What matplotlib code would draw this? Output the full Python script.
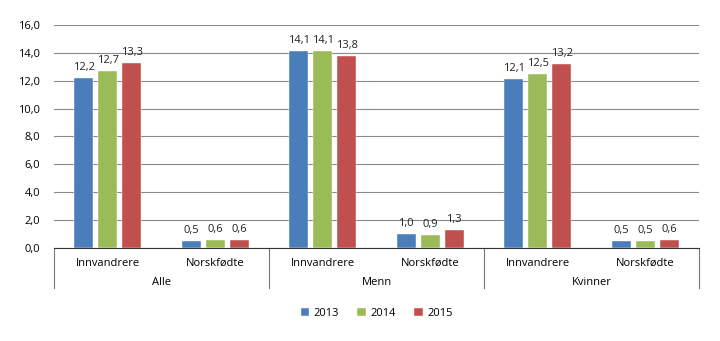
import matplotlib.pyplot as plt
import numpy as np
from matplotlib.ticker import FuncFormatter

plt.rcParams["font.family"] = ["Open Sans", "DejaVu Sans"]
plt.rcParams["font.size"] = 8

groups = ["Alle", "Menn", "Kvinner"]
subcats = ["Innvandrere", "Norskfødte"] * 3
years = ["2013", "2014", "2015"]
v2013 = [12.2, 0.5, 14.1, 1.0, 12.1, 0.5]
v2014 = [12.7, 0.6, 14.1, 0.9, 12.5, 0.5]
v2015 = [13.3, 0.6, 13.8, 1.3, 13.2, 0.6]
colors = ["#4a7ebb", "#9bbb59", "#c0504d"]

fig = plt.figure(figsize=(7.2, 3.41), dpi=100)
ax = fig.add_axes([0.075, 0.273, 0.896, 0.654])

x = np.arange(len(subcats))
w = 0.177
step = 0.223
for i, (vals, c, lab) in enumerate(zip([v2013, v2014, v2015], colors, years)):
    bars = ax.bar(x + (i - 1) * step, vals, w, color=c, label=lab, zorder=3,
                  edgecolor="white", linewidth=0.3)
    for b, v in zip(bars, vals):
        ax.text(b.get_x() + b.get_width() / 2, v + 0.35, ("%.1f" % v).replace(".", ","),
                ha="center", va="bottom", fontsize=8, color="#222222")

ax.set_xlim(-0.5, 5.5)
ax.set_ylim(0, 16)
ax.set_yticks(np.arange(0, 17, 2))
ax.yaxis.set_major_formatter(FuncFormatter(lambda v, p: ("%.1f" % v).replace(".", ",")))
ax.grid(axis="y", color="#8a8a8a", linewidth=0.8, zorder=0)
ax.tick_params(axis="y", length=0, pad=10, labelsize=8)
for s in ["left", "right", "top"]:
    ax.spines[s].set_visible(False)
ax.spines["bottom"].set_color("#333333")
ax.spines["bottom"].set_linewidth(0.8)

ax.set_xticks(x)
ax.set_xticklabels(subcats)
ax.tick_params(axis="x", length=0, pad=7, labelsize=8)

trans = ax.get_xaxis_transform()
for b in [-0.5, 1.5, 3.5, 5.5]:
    ax.plot([b, b], [0, -0.18], transform=trans, color="#777777", lw=0.8, clip_on=False)
for k, g in enumerate(groups):
    ax.text(2 * k + 0.5, -0.155, g, transform=trans, ha="center", va="center", fontsize=8)

ax.legend(loc="center", bbox_to_anchor=(0.5, -0.293), ncol=3, frameon=False,
          handlelength=0.8, handleheight=0.8, columnspacing=1.6, handletextpad=0.4,
          fontsize=8)

fig.savefig("out.png", dpi=100)
